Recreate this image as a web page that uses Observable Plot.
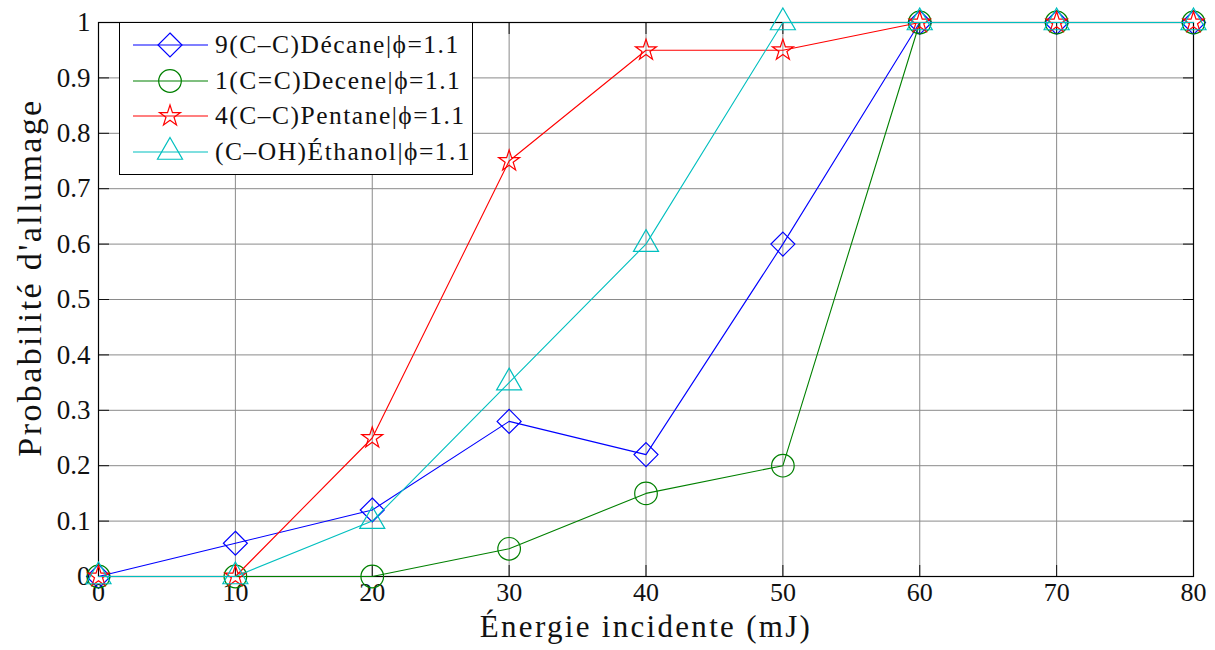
<!DOCTYPE html>
<html>
<head>
<meta charset="utf-8">
<script src="https://cdn.jsdelivr.net/npm/d3@7"></script>
<script src="https://cdn.jsdelivr.net/npm/@observablehq/plot@0.6"></script>
<style>
  html, body { margin: 0; padding: 0; background: white; }
  #wrap { position: relative; width: 1215px; height: 650px; font-family: "Liberation Serif", serif; }
  #legend { position: absolute; left: 119px; top: 22px; width: 354px; height: 153px; border: 1.3px solid black; background: white; box-sizing: border-box; }
  .row { position: absolute; left: 0; height: 36px; display: flex; align-items: center; }
  .row span { font-size: 25.5px; color: #111; white-space: nowrap; margin-left: 3px; letter-spacing: 1.5px; }
</style>
</head>
<body>
<div id="wrap"><div id="legend"></div></div>
<script>
const energies = [0, 10, 20, 30, 40, 50, 60, 70, 80];
const decane  = [0, 0.06, 0.12, 0.28, 0.22, 0.60, 1, 1, 1];
const decene  = [0, 0, 0, 0.05, 0.15, 0.20, 1, 1, 1];
const pentane = [0, 0, 0.25, 0.75, 0.95, 0.95, 1, 1, 1];
const ethanol = [0, 0, 0.10, 0.35, 0.60, 1, 1, 1, 1];
const seriesNames = ["9(C\u2013C)Décane|ϕ=1.1", "1(C=C)Decene|ϕ=1.1", "4(C\u2013C)Pentane|ϕ=1.1", "(C\u2013OH)Éthanol|ϕ=1.1"];
const seriesColors = ["#0000ff", "#008000", "#ff0000", "#00bfbf"];
const seriesSymbols = ["diamond2", "circle", "star", "triangle"];
const seriesR = [10.8, 11.3, 6.6, 9.3];
const xTicks = [0, 10, 20, 30, 40, 50, 60, 70, 80];
const yTicks = [0, 0.1, 0.2, 0.3, 0.4, 0.5, 0.6, 0.7, 0.8, 0.9, 1];
const xLabel = "Énergie incidente (mJ)";
const yLabel = "Probabilité d'allumage";

const allSeries = [decane, decene, pentane, ethanol];
const rows = [];
allSeries.forEach((vals, i) => vals.forEach((v, j) => rows.push({s: i, x: energies[j], y: v})));

const marks = [
  Plot.gridX(xTicks, {stroke: "#8a8a8a", strokeOpacity: 1}),
  Plot.gridY(yTicks, {stroke: "#8a8a8a", strokeOpacity: 1}),
  Plot.axisX(xTicks, {anchor: "bottom", tickSize: -11, tickPadding: 17, tickFormat: d => String(d), fontSize: 26, label: null}),
  Plot.axisX(xTicks, {anchor: "top", tickSize: -11, tickFormat: () => "", label: null}),
  Plot.axisY(yTicks, {anchor: "left", tickSize: -11, tickPadding: 19, tickFormat: d => String(d), fontSize: 27, label: null}),
  Plot.axisY(yTicks, {anchor: "right", tickSize: -11, tickFormat: () => "", label: null}),
  Plot.frame({stroke: "black", strokeWidth: 1.2}),
];
allSeries.forEach((vals, i) => {
  const d = rows.filter(r => r.s === i);
  marks.push(Plot.line(d, {x: "x", y: "y", stroke: seriesColors[i], strokeWidth: 1.1}));
  marks.push(Plot.dot(d, {x: "x", y: "y", symbol: () => seriesSymbols[i], r: seriesR[i], stroke: seriesColors[i], fill: "none", strokeWidth: 1.2}));
});
marks.push(Plot.text([xLabel], {text: d => d, frameAnchor: "bottom", dy: 60, fontSize: 31, fill: "#111", textAnchor: "middle"}));
marks.push(Plot.text([yLabel], {text: d => d, frameAnchor: "left", dx: -68, dy: -22, rotate: -90, fontSize: 34, fill: "#111", textAnchor: "middle"}));

const chart = Plot.plot({
  width: 1215, height: 650,
  marginLeft: 98, marginRight: 22, marginTop: 22, marginBottom: 74,
  x: {domain: [0, 80]},
  y: {domain: [0, 1]},
  symbol: {type: "identity"},
  style: {fontFamily: "Liberation Serif, serif", background: "white", color: "#111", overflow: "visible"},
  marks
});
document.getElementById("wrap").prepend(chart);
// widen label glyph spacing like the reference font
d3.select(chart).selectAll("text").filter(function() { return this.textContent === xLabel; }).attr("letter-spacing", "2.3px");
d3.select(chart).selectAll("text").filter(function() { return this.textContent === yLabel; }).attr("letter-spacing", "2.4px");

// legend
const leg = d3.select("#legend");
seriesNames.forEach((name, i) => {
  const row = leg.append("div").attr("class", "row").style("top", (4 + i * 35.7) + "px");
  const svg = row.append("svg").attr("width", 92).attr("height", 36);
  svg.append("line").attr("x1", 13).attr("x2", 88).attr("y1", 18).attr("y2", 18)
     .attr("stroke", seriesColors[i]).attr("stroke-width", 1.1);
  const symMap = {diamond2: d3.symbolDiamond2, circle: d3.symbolCircle, star: d3.symbolStar, triangle: d3.symbolTriangle};
  svg.append("path").attr("transform", "translate(50,18)")
     .attr("d", d3.symbol(symMap[seriesSymbols[i]], Math.PI * seriesR[i] * seriesR[i])())
     .attr("fill", "none").attr("stroke", seriesColors[i]).attr("stroke-width", 1.2);
  row.append("span").text(name);
});
</script>
</body>
</html>
